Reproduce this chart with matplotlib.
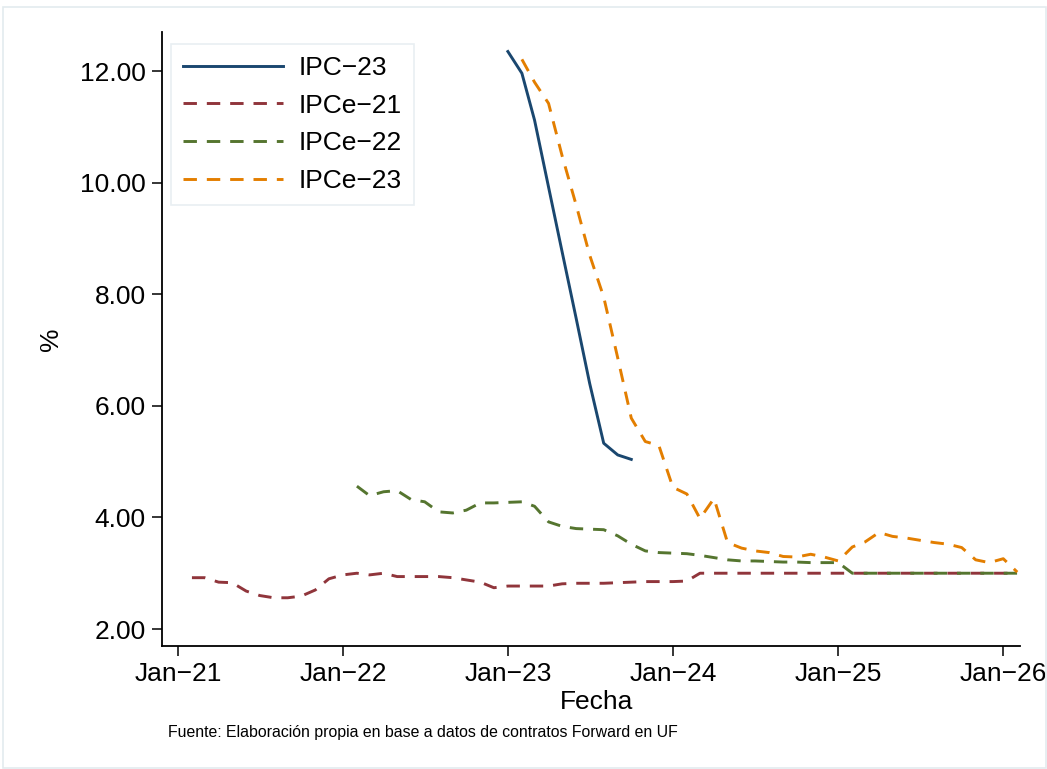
import pandas as pd
import matplotlib
matplotlib.use("Agg")
import matplotlib.pyplot as plt
from matplotlib.patches import Rectangle

plt.rcParams["font.family"] = ["Liberation Sans", "DejaVu Sans"]

# monthly series, first month of each one
inicio_ipc23 = "2023-01-01"
inicio_ipce21 = "2021-02-01"
inicio_ipce22 = "2022-02-01"
inicio_ipce23 = "2023-02-01"

ipc23 = [12.35, 11.96, 11.12, 9.92, 8.76, 7.57, 6.40, 5.33, 5.12, 5.04]

ipce21 = [2.92, 2.92, 2.84, 2.83, 2.68, 2.60, 2.56, 2.56, 2.59, 2.70,
          2.90, 2.97, 3.00, 2.97, 3.00, 2.94, 2.94, 2.94, 2.94, 2.92,
          2.88, 2.84, 2.74, 2.77, 2.77, 2.77, 2.77, 2.81, 2.82, 2.82,
          2.82, 2.83, 2.84, 2.85, 2.85, 2.85, 2.86, 3.00, 3.00, 3.00,
          3.00, 3.00, 3.00, 3.00, 3.00, 3.00, 3.00, 3.00, 3.00, 3.00,
          3.00, 3.00, 3.00, 3.00, 3.00, 3.00, 3.00, 3.00, 3.00, 3.00,
          3.00]

ipce22 = [4.56, 4.39, 4.46, 4.48, 4.32, 4.28, 4.10, 4.08, 4.13, 4.26,
          4.26, 4.27, 4.28, 4.20, 3.92, 3.84, 3.80, 3.79, 3.78, 3.67,
          3.52, 3.40, 3.37, 3.36, 3.35, 3.32, 3.28, 3.24, 3.22, 3.22,
          3.21, 3.20, 3.20, 3.19, 3.19, 3.19, 3.00, 3.00, 3.00, 3.00,
          3.00, 3.00, 3.00, 3.00, 3.00, 3.00, 3.00, 3.00, 3.00]

ipce23 = [12.21, 11.80, 11.42, 10.48, 9.60, 8.70, 7.95, 6.86, 5.78, 5.36,
          5.29, 4.54, 4.42, 3.98, 4.34, 3.55, 3.45, 3.40, 3.37, 3.30,
          3.29, 3.34, 3.29, 3.22, 3.47, 3.56, 3.73, 3.66, 3.63, 3.59,
          3.55, 3.52, 3.46, 3.24, 3.19, 3.26, 3.02]

anios = [2021, 2022, 2023, 2024, 2025, 2026]
etiquetas_x = ["Jan\u221221", "Jan\u221222", "Jan\u221223", "Jan\u221224", "Jan\u221225", "Jan\u221226"]
ticks_y = [2, 4, 6, 8, 10, 12]

navy = "#1a476f"
maroon = "#90353b"
green = "#55752f"
orange = "#e37e00"

fig = plt.figure(figsize=(10.47, 7.69), dpi=100)
ax = fig.add_axes([0.1544, 0.1599, 0.8198, 0.7985])

# light outer border like the stata graph region
fig.patches.append(Rectangle((3 / 1047, 1 / 769), 1043 / 1047, 761 / 769,
                             transform=fig.transFigure, fill=False,
                             edgecolor="#e3ebef", linewidth=1.2))

dash = (0, (4.6, 3.4))
ax.plot(pd.date_range(inicio_ipc23, periods=len(ipc23), freq="MS"), ipc23,
        color=navy, lw=2.1, label="IPC\u221223")
ax.plot(pd.date_range(inicio_ipce21, periods=len(ipce21), freq="MS"), ipce21,
        color=maroon, lw=2.1, ls=dash, label="IPCe\u221221")
ax.plot(pd.date_range(inicio_ipce22, periods=len(ipce22), freq="MS"), ipce22,
        color=green, lw=2.1, ls=dash, label="IPCe\u221222")
ax.plot(pd.date_range(inicio_ipce23, periods=len(ipce23), freq="MS"), ipce23,
        color=orange, lw=2.1, ls=dash, label="IPCe\u221223")

ax.set_xlim(pd.Timestamp("2020-11-26"), pd.Timestamp("2026-02-07"))
ax.set_ylim(1.695, 12.70)

ax.set_xticks([pd.Timestamp(year=a, month=1, day=1) for a in anios])
ax.set_xticklabels(etiquetas_x)
ax.set_yticks(ticks_y)
ax.set_yticklabels(["{:.2f}".format(t) for t in ticks_y])

ax.tick_params(axis="both", labelsize=19, length=7.5, width=1.1, direction="out", pad=4)
ax.spines["top"].set_visible(False)
ax.spines["right"].set_visible(False)
ax.spines["left"].set_linewidth(1.3)
ax.spines["bottom"].set_linewidth(1.3)

ax.set_xlabel("Fecha", fontsize=19)
ax.xaxis.set_label_coords(0.507, -0.071)
ax.set_ylabel("%", fontsize=19, labelpad=12)

leg = ax.legend(loc="upper left", bbox_to_anchor=(0.0108, 0.9805), fontsize=19,
                handlelength=3.8, handletextpad=0.6, labelspacing=0.52,
                borderpad=0.45, borderaxespad=0, frameon=True, fancybox=False)
leg.get_frame().set_edgecolor("#e3ebef")
leg.get_frame().set_linewidth(1.2)

fig.text(168 / 1047, 1 - 733 / 769, "Fuente: Elaboración propia en base a datos de contratos Forward en UF",
         fontsize=11.4, va="center", ha="left")

plt.savefig("out.png", dpi=100)
